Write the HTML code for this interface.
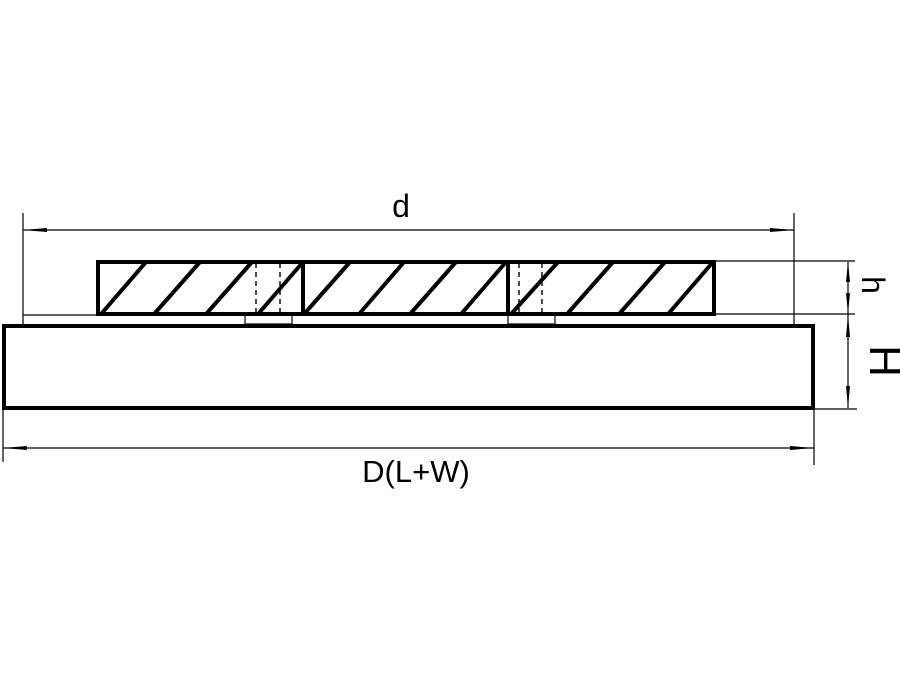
<!DOCTYPE html>
<html><head><style>body{margin:0;background:#fff}svg{display:block}</style></head>
<body>
<svg width="900" height="675" viewBox="0 0 900 675" xmlns="http://www.w3.org/2000/svg" font-family="Liberation Sans, sans-serif">
<rect width="900" height="675" fill="#fff"/>
<g stroke="#000" fill="none">
<g stroke-width="1.2">
<line x1="23" y1="213" x2="23" y2="326"/>
<line x1="794" y1="213" x2="794" y2="326"/>
<line x1="23" y1="230" x2="794" y2="230"/>
<line x1="23" y1="315" x2="98" y2="315"/>
<line x1="714" y1="261" x2="855" y2="261"/>
<line x1="714" y1="314" x2="855" y2="314"/>
<line x1="814" y1="409" x2="857" y2="409"/>
<line x1="848" y1="262" x2="848" y2="408"/>
<line x1="3" y1="408" x2="3" y2="462"/>
<line x1="814" y1="408" x2="814" y2="465"/>
<line x1="3" y1="448" x2="814" y2="448"/>
<rect x="245" y="314" width="47" height="10"/>
<rect x="508" y="314" width="47" height="10"/>
</g>
<g stroke-width="1.4" stroke-dasharray="5,4">
<line x1="256" y1="263" x2="256" y2="314"/><line x1="280" y1="263" x2="280" y2="314"/>
<line x1="519" y1="263" x2="519" y2="314"/><line x1="542" y1="263" x2="542" y2="314"/>
</g>
<g stroke-width="4">
<rect x="4" y="326" width="809" height="82"/>
<rect x="98" y="262" width="616" height="52"/>
<line x1="303" y1="262" x2="303" y2="314"/>
<line x1="508" y1="262" x2="508" y2="314"/>
<line x1="102" y1="313" x2="146" y2="262"/><line x1="155" y1="313" x2="200" y2="262"/>
<line x1="207" y1="313" x2="252" y2="262"/><line x1="259" y1="313" x2="303" y2="262"/>
<line x1="305" y1="313" x2="350" y2="262"/><line x1="360" y1="313" x2="404" y2="262"/>
<line x1="411" y1="313" x2="456" y2="262"/><line x1="462" y1="313" x2="506" y2="262"/>
<line x1="512" y1="313" x2="558" y2="262"/><line x1="568" y1="313" x2="613" y2="262"/>
<line x1="620" y1="313" x2="665" y2="262"/><line x1="669" y1="313" x2="713" y2="262"/>
</g>
</g>
<g fill="#000">
<polygon points="23,230 47,228 47,232"/>
<polygon points="794,230 770,228 770,232"/>
<polygon points="3,448 27,446 27,450"/>
<polygon points="814,448 790,446 790,450"/>
<polygon points="848,262 846,282 850,282"/>
<polygon points="848,313 846,293 850,293"/>
<polygon points="848,315 846,337 850,337"/>
<polygon points="848,408 846,386 850,386"/>
</g>
<text x="401" y="217" font-size="32" text-anchor="middle">d</text>
<text x="416" y="482" font-size="31" text-anchor="middle">D(L+W)</text>
<text transform="translate(862,285) rotate(90)" font-size="32" text-anchor="middle">h</text>
<text transform="translate(870,361) rotate(90)" font-size="44" text-anchor="middle">H</text>
</svg>
</body></html>
